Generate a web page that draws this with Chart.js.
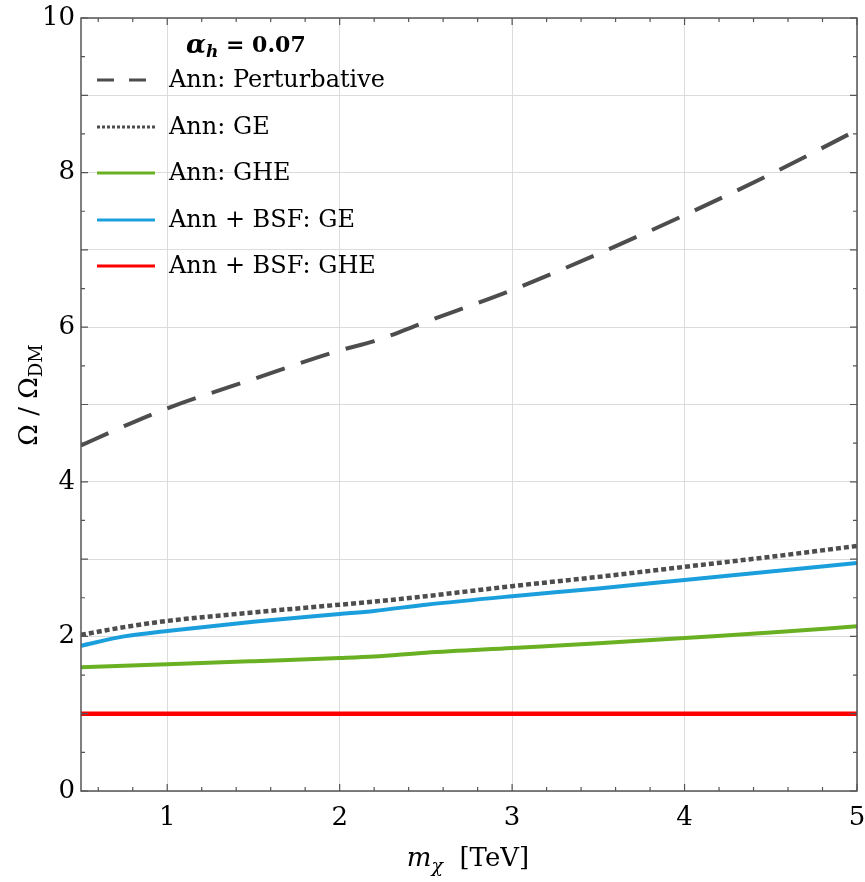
<!DOCTYPE html>
<html>
<head>
<meta charset="utf-8">
<script src="https://cdn.jsdelivr.net/npm/chart.js@4"></script>
<style>
  html, body { margin: 0; padding: 0; background: #fff; }
  canvas { display: block; }
</style>
</head>
<body>
<canvas id="relicChart" width="865" height="882"></canvas>
<script>
// dark matter mass in TeV
var masses = [0.5, 0.75, 1, 1.5, 2, 2.2, 2.5, 3, 3.5, 4, 4.5, 5];

var annPert   = [4.47, 4.72, 4.95, 5.33, 5.70, 5.82, 6.07, 6.48, 6.95, 7.45, 7.98, 8.55];
var annGE     = [2.02, 2.12, 2.20, 2.31, 2.41, 2.45, 2.52, 2.65, 2.77, 2.90, 3.03, 3.17];
var annGHE    = [1.60, 1.62, 1.64, 1.68, 1.72, 1.74, 1.79, 1.85, 1.91, 1.98, 2.05, 2.13];
var bsfGE     = [1.88, 2.00, 2.07, 2.19, 2.29, 2.33, 2.41, 2.52, 2.62, 2.73, 2.84, 2.95];
var bsfGHE    = [1.00, 1.00, 1.00, 1.00, 1.00, 1.00, 1.00, 1.00, 1.00, 1.00, 1.00, 1.00];

var xTickLabels = [1, 2, 3, 4, 5];
var yTickLabels = [0, 2, 4, 6, 8, 10];

var serif = "'DejaVu Serif', 'Liberation Serif', serif";

function pts(ys) {
    return masses.map(function (m, i) { return { x: m, y: ys[i] }; });
}

// inward ticks + frame on all four sides
var frameTicks = {
    id: 'frameTicks',
    afterDraw: function (chart) {
        var c = chart.ctx, a = chart.chartArea;
        var xs = chart.scales.x, ys = chart.scales.y;
        c.save();
        c.strokeStyle = '#555';
        c.lineWidth = 1.5;
        c.strokeRect(a.left, a.top, a.right - a.left, a.bottom - a.top);
        c.lineWidth = 1.2;
        c.beginPath();
        for (var i = 3; i <= 25; i++) {
            var v = i * 0.2;
            var px = xs.getPixelForValue(v);
            var len = Math.abs(v - Math.round(v)) < 1e-6 ? 7 : 4;
            c.moveTo(px, a.bottom); c.lineTo(px, a.bottom - len);
            c.moveTo(px, a.top); c.lineTo(px, a.top + len);
        }
        for (var j = 0; j <= 20; j++) {
            var w = j * 0.5;
            var py = ys.getPixelForValue(w);
            var l2 = j % 2 === 0 ? 7 : 4;
            c.moveTo(a.left, py); c.lineTo(a.left + l2, py);
            c.moveTo(a.right, py); c.lineTo(a.right - l2, py);
        }
        c.stroke();
        c.restore();
    }
};

// legend block inside the plot
var legendBox = {
    id: 'legendBox',
    afterDatasetsDraw: function (chart) {
        var c = chart.ctx;
        c.save();
        c.fillStyle = '#000';
        c.textBaseline = 'middle';
        var tx = 186;
        c.font = "bold italic 26px " + serif;
        c.fillText('\u03b1', tx, 46);
        var aw = c.measureText('\u03b1').width;
        c.font = "bold italic 17px " + serif;
        c.fillText('h', tx + aw, 53);
        var hw = c.measureText('h').width;
        c.font = "bold 22px " + serif;
        c.fillText(' = 0.07', tx + aw + hw, 46);

        var ds = chart.data.datasets;
        var rowY = [80, 127, 173, 220, 266];
        c.font = "24px " + serif;
        ds.forEach(function (d, k) {
            var y = rowY[k];
            c.save();
            c.strokeStyle = d.borderColor;
            c.lineWidth = 3;
            c.setLineDash(k === 0 ? [17, 15] : (k === 1 ? [3, 2] : []));
            c.beginPath();
            c.moveTo(97, y); c.lineTo(155, y);
            c.stroke();
            c.restore();
            c.fillText(d.label, 169, y + 1);
        });
        c.restore();
    }
};

// axis titles with subscripts
var axisTitles = {
    id: 'axisTitles',
    afterDraw: function (chart) {
        var c = chart.ctx;
        c.save();
        c.fillStyle = '#000';
        c.textBaseline = 'alphabetic';
        // x title: m_chi [TeV]
        var base = 866;
        c.font = "italic 26px " + serif;
        var mW = c.measureText('m').width;
        c.font = "italic 19px " + serif;
        var chiW = c.measureText('\u03c7').width;
        c.font = "26px " + serif;
        var tW = c.measureText('  [TeV]').width;
        var x0 = 468 - (mW + chiW + tW) / 2;
        c.font = "italic 26px " + serif;
        c.fillText('m', x0, base);
        c.font = "italic 19px " + serif;
        c.fillText('\u03c7', x0 + mW, base + 6);
        c.font = "26px " + serif;
        c.fillText('  [TeV]', x0 + mW + chiW, base);

        // y title: Omega / Omega_DM
        c.translate(37, 395);
        c.rotate(-Math.PI / 2);
        c.font = "26px " + serif;
        var t1 = '\u03a9 / \u03a9';
        var w1 = c.measureText(t1).width;
        c.font = "18px " + serif;
        var w2 = c.measureText('DM').width;
        var s = -(w1 + w2) / 2;
        c.font = "26px " + serif;
        c.fillText(t1, s, 0);
        c.font = "18px " + serif;
        c.fillText('DM', s + w1, 5);
        c.restore();
    }
};

var ctx = document.getElementById('relicChart').getContext('2d');
var myChart = new Chart(ctx, {
    type: 'line',
    data: {
        datasets: [{
            label: 'Ann: Perturbative',
            data: pts(annPert),
            borderColor: '#4d4d4d',
            borderWidth: 4,
            borderDash: [30, 17],
            pointRadius: 0,
            cubicInterpolationMode: 'monotone',
            fill: false
        }, {
            label: 'Ann: GE',
            data: pts(annGE),
            borderColor: '#4d4d4d',
            borderWidth: 4.5,
            borderDash: [5, 3],
            pointRadius: 0,
            cubicInterpolationMode: 'monotone',
            fill: false
        }, {
            label: 'Ann: GHE',
            data: pts(annGHE),
            borderColor: '#6ab023',
            borderWidth: 4,
            pointRadius: 0,
            cubicInterpolationMode: 'monotone',
            fill: false
        }, {
            label: 'Ann + BSF: GE',
            data: pts(bsfGE),
            borderColor: '#1a9fdc',
            borderWidth: 4,
            pointRadius: 0,
            cubicInterpolationMode: 'monotone',
            fill: false
        }, {
            label: 'Ann + BSF: GHE',
            data: pts(bsfGHE),
            borderColor: '#ff0000',
            borderWidth: 4.5,
            pointRadius: 0,
            fill: false
        }]
    },
    options: {
        responsive: false,
        animation: false,
        layout: { autoPadding: false, padding: { left: 0, top: 18, right: 8, bottom: 0 } },
        plugins: {
            legend: { display: false },
            tooltip: { enabled: false }
        },
        scales: {
            x: {
                type: 'linear',
                min: 0.5,
                max: 5,
                afterBuildTicks: function (scale) {
                    scale.ticks = xTickLabels.map(function (v) { return { value: v }; });
                },
                afterFit: function (scale) {
                    scale.height = 91;
                    scale.paddingLeft = 0;
                    scale.paddingRight = 0;
                },
                grid: { color: '#dcdcdc', lineWidth: 1, drawTicks: false },
                border: { display: false },
                ticks: {
                    color: '#000',
                    font: { family: serif, size: 26 },
                    padding: 12,
                    maxRotation: 0
                }
            },
            y: {
                min: 0,
                max: 10,
                afterFit: function (scale) {
                    scale.width = 81;
                    scale.paddingTop = 0;
                    scale.paddingBottom = 0;
                },
                grid: { color: '#dcdcdc', lineWidth: 1, drawTicks: false },
                border: { display: false },
                ticks: {
                    stepSize: 1,
                    color: '#000',
                    font: { family: serif, size: 26 },
                    padding: 6,
                    callback: function (v) {
                        return yTickLabels.indexOf(v) >= 0 ? String(v) : '';
                    }
                }
            }
        }
    },
    plugins: [legendBox, axisTitles, frameTicks]
});
</script>
</body>
</html>
